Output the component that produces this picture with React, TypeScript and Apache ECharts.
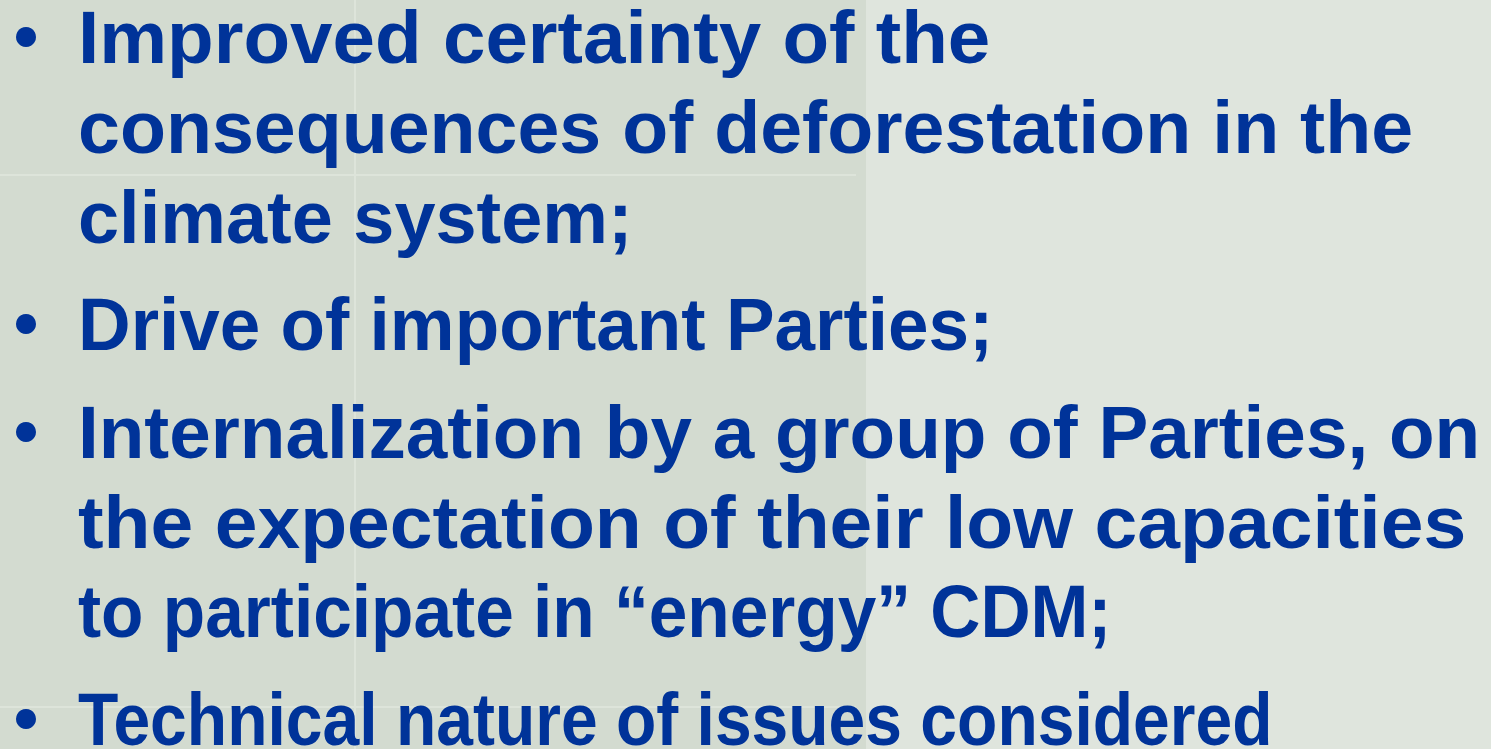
import React, { useEffect, useRef } from "react";
import * as echarts from "echarts";

const bulletStarts: boolean[] = [true, false, false, true, true, false, false, true];
const lines: string[] = [
  "Improved certainty of the",
  "consequences of deforestation in the",
  "climate system;",
  "Drive of important Parties;",
  "Internalization by a group of Parties, on",
  "the expectation of their low capacities",
  "to participate in \u201cenergy\u201d CDM;",
  "Technical nature of issues considered",
];
const baselines: number[] = [63, 153, 243, 350, 458, 548, 637, 745];
const lineEnds: number[] = [990, 1413, 633, 993, 1480, 1466, 1112, 1272];

const W = 1491;
const H = 749;
const FONT = "Liberation Sans";
const SIZE = 74;
const TEXT_X = 78;
const COLOR = "#003399";

function measure(text: string): number {
  const c = document.createElement("canvas");
  const ctx = c.getContext("2d")!;
  ctx.font = `bold ${SIZE}px "${FONT}"`;
  return ctx.measureText(text).width;
}

export default function App() {
  const ref = useRef<HTMLDivElement>(null);
  useEffect(() => {
    document.body.style.margin = "0";
    const chart = echarts.init(ref.current!, null, { renderer: "svg" });
    const elements: any[] = [
      { type: "rect", shape: { x: 0, y: 0, width: W, height: H }, style: { fill: "#dfe5dd" }, z: 0 },
      { type: "rect", shape: { x: 0, y: 0, width: 866, height: H }, style: { fill: "#d3dbd0" }, z: 0 },
      { type: "rect", shape: { x: 354, y: 0, width: 2, height: H }, style: { fill: "#dde4da" }, z: 1 },
      { type: "rect", shape: { x: 0, y: 174, width: 856, height: 2 }, style: { fill: "#dde4da" }, z: 1 },
      { type: "rect", shape: { x: 0, y: 706, width: 856, height: 2 }, style: { fill: "#dde4da" }, z: 1 },
    ];
    lines.forEach((t, i) => {
      const w = measure(t);
      const sx = (lineEnds[i] - TEXT_X) / w;
      elements.push({
        type: "text",
        x: TEXT_X,
        y: baselines[i] - 0.3465 * SIZE,
        scaleX: sx,
        z: 5,
        style: {
          text: t,
          fill: COLOR,
          font: `bold ${SIZE}px "${FONT}"`,
          textAlign: "left",
          verticalAlign: "middle",
        },
      });
      if (bulletStarts[i]) {
        elements.push({
          type: "circle",
          shape: { cx: 26, cy: baselines[i] - 26, r: 10 },
          style: { fill: COLOR },
          z: 5,
        });
      }
    });
    chart.setOption({ animation: false, graphic: { elements } });
    return () => chart.dispose();
  }, []);
  return <div ref={ref} style={{ width: W, height: H }} />;
}
